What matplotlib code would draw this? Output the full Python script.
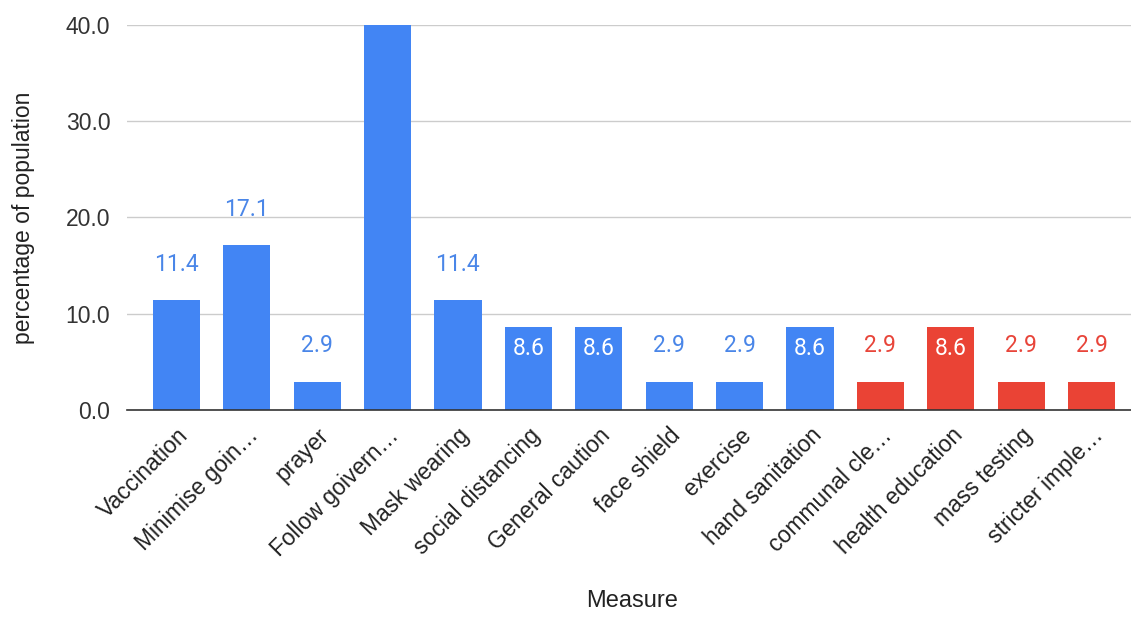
import matplotlib
matplotlib.use('Agg')
import matplotlib.pyplot as plt
import matplotlib.transforms as mtransforms
import numpy as np

measures = ['Vaccination', 'Minimise goin…', 'prayer', 'Follow goivern…', 'Mask wearing',
            'social distancing', 'General caution', 'face shield', 'exercise',
            'hand sanitation', 'communal cle…', 'health education', 'mass testing',
            'stricter imple…']
percent = [11.4, 17.1, 2.9, 40.0, 11.4, 8.6, 8.6, 2.9, 2.9, 8.6, 2.9, 8.6, 2.9, 2.9]
group = ['a'] * 10 + ['b'] * 4

blue = '#4285f4'
red = '#ea4335'
bar_col = {'a': blue, 'b': red}
lab_col = {'a': '#4a86e8', 'b': '#e8453a'}

plt.rcParams['font.family'] = ['Liberation Sans', 'DejaVu Sans']

fig = plt.figure(figsize=(11.31, 6.17), dpi=100)
ax = fig.add_axes([0.1123, 0.3355, 0.8877, 0.624])

x = np.arange(len(measures))
cols = [bar_col[g] for g in group]
ax.bar(x, percent, width=0.67, color=cols, zorder=3)

for xi, v, g in zip(x, percent, group):
    txt = '{:.1f}'.format(v)
    # bars tall enough get a white label inside, short ones get one on top
    if 5 < v < 10:
        ax.text(xi, v - 2.2, txt, ha='center', va='center', color='white',
                fontsize=16.5, family='Roboto', zorder=4)
    else:
        ax.text(xi, v + 3.75, txt, ha='center', va='center', color=lab_col[g],
                fontsize=16.5, family='Roboto', zorder=4, clip_on=False)

ax.set_xlim(-0.7, 13.56)
ax.set_ylim(0, 40)
ax.set_yticks([0, 10, 20, 30, 40])
ax.set_yticklabels(['0.0', '10.0', '20.0', '30.0', '40.0'], fontsize=16.5, color='#333333')
ax.set_xticks(x)
ax.set_xticklabels(measures, rotation=45, ha='right', rotation_mode='anchor',
                   fontsize=16.5, color='#222222')
# nudge the slanted category names a little to the left
shift = mtransforms.ScaledTranslation(-9 / 100, 0, fig.dpi_scale_trans)
for lab in ax.get_xticklabels():
    lab.set_transform(lab.get_transform() + shift)
ax.tick_params(axis='both', length=0)
ax.tick_params(axis='y', pad=12)
ax.tick_params(axis='x', pad=10)

ax.grid(axis='y', color='#cccccc', linewidth=1, zorder=0)
for s in ['top', 'right', 'left']:
    ax.spines[s].set_visible(False)
ax.spines['bottom'].set_color('#333333')
ax.spines['bottom'].set_linewidth(1.2)
ax.spines['bottom'].set_zorder(5)

ax.set_ylabel('percentage of population', fontsize=16.5, color='#222222')
ax.yaxis.set_label_coords(-0.092, 0.5)
fig.text(0.559, 0.008, 'Measure', ha='center', va='bottom', fontsize=17, color='#222222')

fig.savefig('out.png', dpi=100)
